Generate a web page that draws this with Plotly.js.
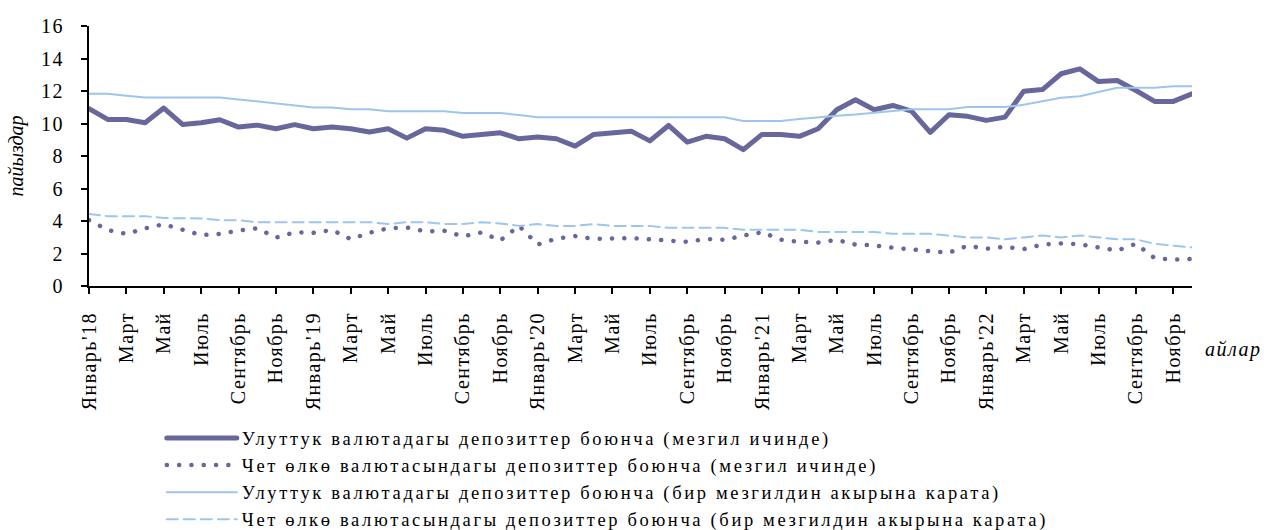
<!DOCTYPE html>
<html>
<head>
<meta charset="utf-8">
<script src="https://cdn.plot.ly/plotly-3.0.1.min.js"></script>
<style>
  html, body { margin: 0; padding: 0; background: #fff; }
  #chart { width: 1264px; height: 530px; }
  svg text { font-family: 'Liberation Serif', serif !important; }
  .xtick text { letter-spacing: 1.5px; }
  .ytick text { letter-spacing: 1.5px; }
  .legendtext { letter-spacing: 2.65px; }
  .annotation-text { letter-spacing: 1.5px; }
  path.js-line { stroke-linecap: round; stroke-linejoin: round; }
</style>
</head>
<body>
<div id="chart"></div>
<script>
// Monthly data, January 2018 – December 2022 (percent)
const nationalPeriod = [
  10.91, 10.25, 10.25, 10.05, 10.95, 9.94, 10.05, 10.23, 9.78, 9.90,
  9.68, 9.93, 9.68, 9.78, 9.68, 9.48, 9.68, 9.10, 9.68, 9.58,
  9.21, 9.33, 9.43, 9.06, 9.17, 9.06, 8.61, 9.33, 9.43, 9.53,
  8.93, 9.88, 8.86, 9.21, 9.06, 8.39, 9.33, 9.33, 9.21, 9.68,
  10.85, 11.46, 10.85, 11.11, 10.76, 9.45, 10.54, 10.44, 10.19, 10.39,
  11.99, 12.09, 13.06, 13.36, 12.58, 12.65, 12.03, 11.36, 11.36, 11.83
];
const foreignPeriod = [
  4.05, 3.45, 3.20, 3.55, 3.80, 3.50, 3.13, 3.20, 3.42, 3.55,
  2.98, 3.30, 3.27, 3.45, 2.88, 3.28, 3.55, 3.60, 3.36, 3.40,
  3.05, 3.30, 2.80, 3.70, 2.55, 2.92, 3.07, 2.90, 2.95, 2.95,
  2.87, 2.82, 2.72, 2.89, 2.84, 3.10, 3.31, 2.85, 2.72, 2.67,
  2.84, 2.55, 2.50, 2.36, 2.23, 2.14, 2.05, 2.48, 2.29, 2.41,
  2.27, 2.55, 2.62, 2.57, 2.38, 2.18, 2.60, 1.72, 1.62, 1.66
];
const nationalEnd = [
  11.83, 11.83, 11.71, 11.60, 11.60, 11.60, 11.60, 11.60, 11.48, 11.36,
  11.23, 11.11, 10.99, 10.99, 10.87, 10.87, 10.76, 10.76, 10.76, 10.76,
  10.64, 10.64, 10.64, 10.52, 10.39, 10.39, 10.39, 10.39, 10.39, 10.39,
  10.39, 10.39, 10.39, 10.39, 10.39, 10.15, 10.15, 10.15, 10.27, 10.39,
  10.48, 10.56, 10.66, 10.76, 10.87, 10.87, 10.87, 11.01, 11.01, 11.01,
  11.15, 11.36, 11.58, 11.68, 11.93, 12.20, 12.20, 12.20, 12.30, 12.30
];
const foreignEnd = [
  4.43, 4.30, 4.30, 4.30, 4.18, 4.18, 4.16, 4.05, 4.05, 3.93,
  3.93, 3.93, 3.93, 3.93, 3.93, 3.93, 3.81, 3.93, 3.93, 3.81,
  3.81, 3.93, 3.85, 3.70, 3.81, 3.70, 3.70, 3.81, 3.70, 3.70,
  3.70, 3.58, 3.58, 3.58, 3.58, 3.46, 3.46, 3.46, 3.46, 3.33,
  3.33, 3.33, 3.33, 3.21, 3.21, 3.21, 3.10, 2.99, 2.99, 2.87,
  2.99, 3.11, 2.99, 3.11, 2.99, 2.87, 2.87, 2.60, 2.48, 2.38
];
// Tick labels (every second month)
const tickLabels = [
  "Январь'18", "Март", "Май", "Июль", "Сентябрь", "Ноябрь",
  "Январь'19", "Март", "Май", "Июль", "Сентябрь", "Ноябрь",
  "Январь'20", "Март", "Май", "Июль", "Сентябрь", "Ноябрь",
  "Январь'21", "Март", "Май", "Июль", "Сентябрь", "Ноябрь",
  "Январь'22", "Март", "Май", "Июль", "Сентябрь", "Ноябрь"
];
const seriesNames = [
  "Улуттук валютадагы депозиттер боюнча (мезгил ичинде)",
  "Чет өлкө валютасындагы депозиттер боюнча (мезгил ичинде)",
  "Улуттук валютадагы депозиттер боюнча (бир мезгилдин акырына карата)",
  "Чет өлкө валютасындагы депозиттер боюнча (бир мезгилдин акырына карата)"
];

const monthIndex = nationalPeriod.map((_, i) => i);
const tickIdx = tickLabels.map((_, i) => i * 2);

const dark = '#67679b';
const light = '#9ec5ec';

const traces = [
  { x: monthIndex, y: nationalPeriod, name: seriesNames[0], type: 'scatter', mode: 'lines',
    line: { color: dark, width: 5 } },
  { x: monthIndex, y: foreignPeriod, name: seriesNames[1], type: 'scatter', mode: 'lines',
    line: { color: dark, width: 4.5, dash: '0.1px,12.2px' } },
  { x: monthIndex, y: nationalEnd, name: seriesNames[2], type: 'scatter', mode: 'lines',
    line: { color: light, width: 2 } },
  { x: monthIndex, y: foreignEnd, name: seriesNames[3], type: 'scatter', mode: 'lines',
    line: { color: light, width: 2, dash: '11px,6px' } }
];

const font = { family: 'Liberation Serif', size: 20, color: '#000' };

const layout = {
  width: 1264, height: 530,
  margin: { l: 89, r: 72, t: 26, b: 244, autoexpand: false },
  paper_bgcolor: '#fff', plot_bgcolor: '#fff',
  font: font,
  showlegend: true,
  legend: {
    x: 0.066, xanchor: 'left', y: -0.5135, yanchor: 'top',
    orientation: 'v', font: Object.assign({}, font, { size: 18.5 }), itemwidth: 70,
    bgcolor: 'rgba(0,0,0,0)', tracegroupgap: 0
  },
  xaxis: {
    range: [0, 59], tickmode: 'array', tickvals: tickIdx, ticktext: tickLabels,
    tickangle: -90, ticks: 'outside', ticklen: 6, tickwidth: 2, tickcolor: '#000',
    ticklabelstandoff: 10,
    showline: true, linecolor: '#000', linewidth: 2, showgrid: false, zeroline: false,
    tickfont: font, fixedrange: true
  },
  yaxis: {
    range: [0, 16], dtick: 2, tick0: 0, ticks: 'outside', ticklen: 6, tickwidth: 2, tickcolor: '#000',
    ticklabelstandoff: 13,
    showline: true, linecolor: '#000', linewidth: 2, showgrid: false, zeroline: false,
    tickfont: font, fixedrange: true,
    title: { text: 'пайыздар', font: Object.assign({}, font, { style: 'italic' }), standoff: 12 }
  },
  annotations: [
    { text: 'айлар', xref: 'paper', yref: 'paper', x: 1.0, xanchor: 'left', xshift: 11,
      y: -0.245, yanchor: 'middle', showarrow: false,
      font: Object.assign({}, font, { style: 'italic' }) }
  ]
};

Plotly.newPlot('chart', traces, layout, { staticPlot: true, displayModeBar: false });
</script>
</body>
</html>
